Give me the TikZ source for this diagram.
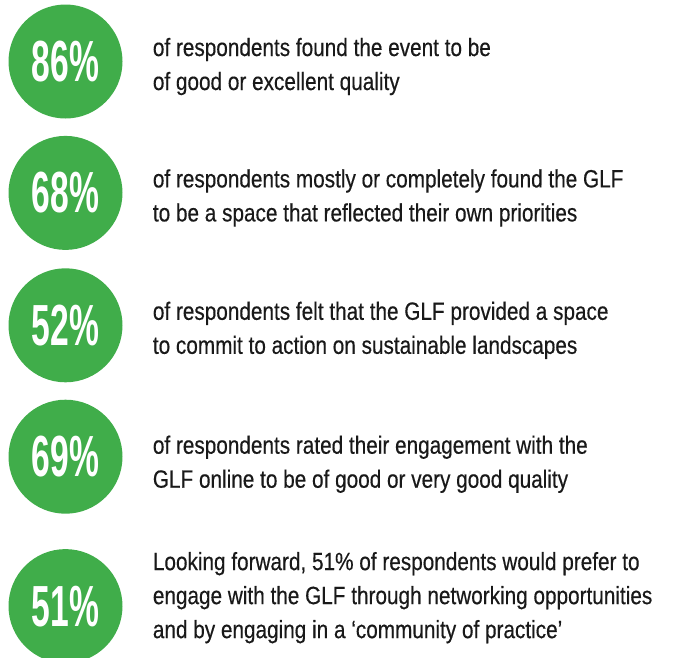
\documentclass[tikz,border=0pt]{standalone}
\usepackage{fontspec}
\usepackage{tikz}
\usetikzlibrary{positioning}
\usepackage{xcolor}

\newfontfamily\notefamily[FakeStretch=0.83, FakeBold=0.4]{Liberation Sans}
\newfontfamily\pctfamily[FakeStretch=0.58]{Liberation Sans Bold}
\definecolor{glfgreen}{RGB}{64,173,74}

\begin{document}
\begin{tikzpicture}[x=1pt, y=-1pt,
  pct/.style={circle, fill=glfgreen, minimum size=114pt, inner sep=0pt,
              text=white, font=\pctfamily\fontsize{58}{58}\selectfont},
  note/.style={align=left, inner sep=0pt, text=black!90,
               font=\notefamily\fontsize{25}{34}\selectfont}]
\useasboundingbox (0,0) rectangle (675,657);
%
\node[pct] (c1) at (65.5,61.5) {86\%};
\node[pct, below=17pt of c1] (c2) {68\%};
\node[pct, below=18pt of c2] (c3) {52\%};
\node[pct, below=17pt of c3] (c4) {69\%};
\node[pct, below=35pt of c4] (c5) {51\%};
%
% base anchor sits on the last line
\node[note, right=30pt of c1, anchor=base west, yshift=-28.5pt] (t1)
  {of respondents found the event to be\\of good or excellent quality};
\node[note, right=30pt of c2, anchor=base west, yshift=-28.5pt] (t2)
  {of respondents mostly or completely found the GLF\\to be a space that reflected their own priorities};
\node[note, right=30pt of c3, anchor=base west, yshift=-28.5pt] (t3)
  {of respondents felt that the GLF provided a space\\to commit to action on sustainable landscapes};
\node[note, right=30pt of c4, anchor=base west, yshift=-31pt] (t4)
  {of respondents rated their engagement with the\\GLF online to be of good or very good quality};
\node[note, right=30pt of c5, anchor=base west, yshift=-32pt] (t5)
  {Looking forward, 51\% of respondents would prefer to\\engage with the GLF through networking opportunities\\and by engaging in a ‘community of practice’};
%
\end{tikzpicture}
\end{document}
